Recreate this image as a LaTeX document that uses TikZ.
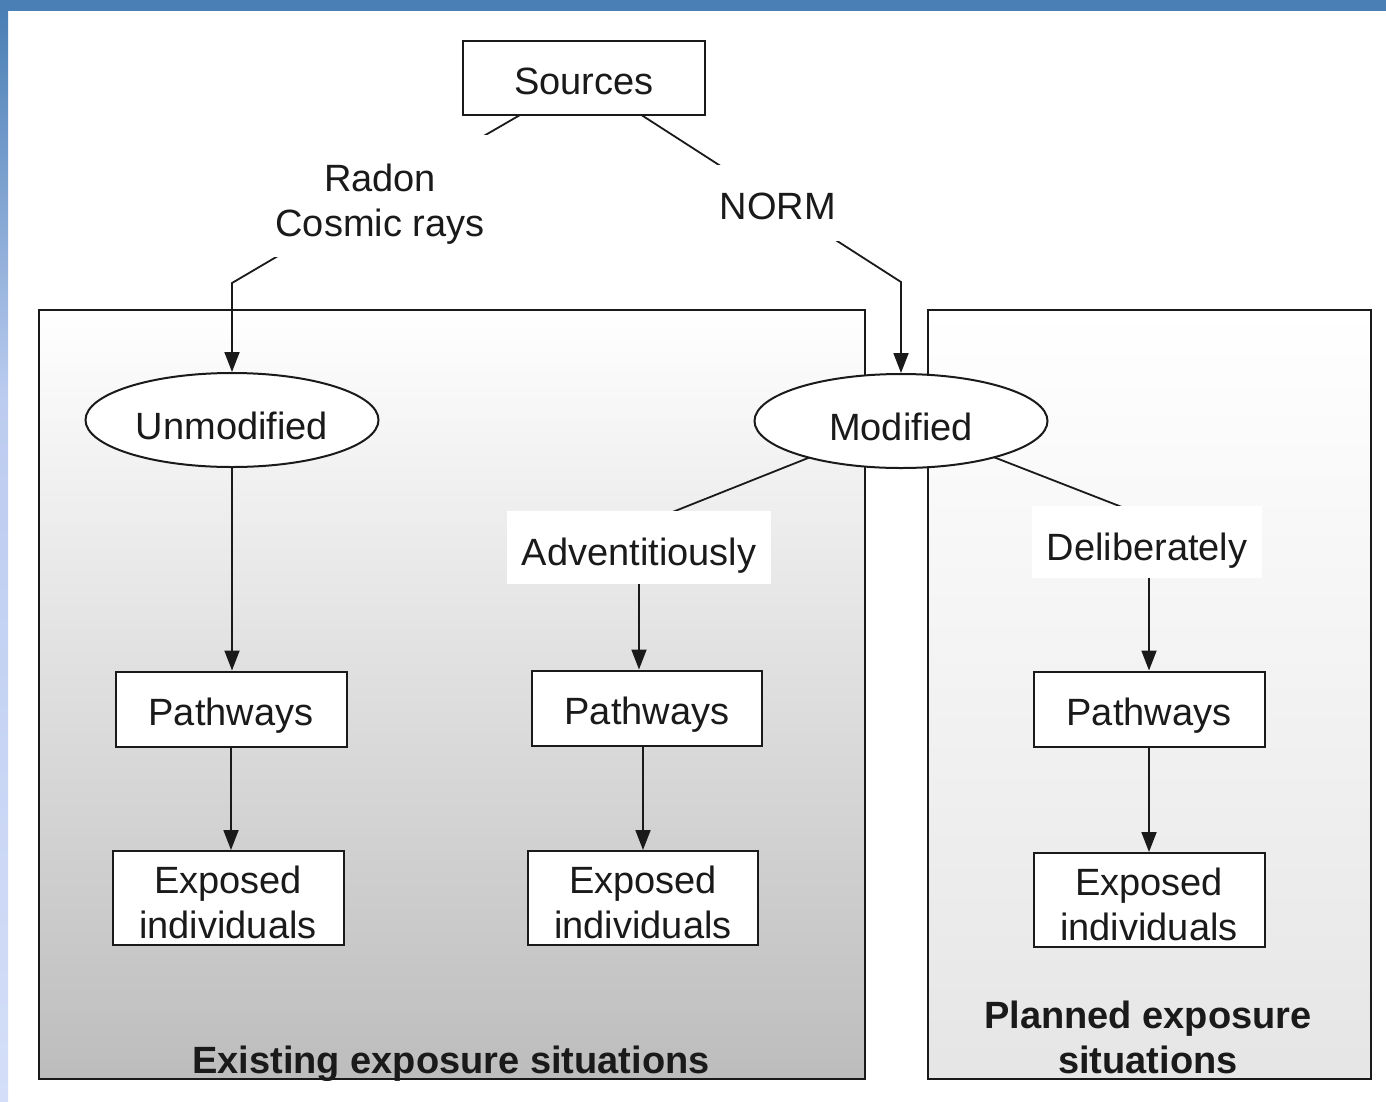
\documentclass[tikz,border=0pt]{standalone}
\usepackage{fontspec}
\setmainfont{Liberation Sans}
\usetikzlibrary{arrows.meta,shapes.geometric}
\pgfdeclarelayer{bg}
\pgfdeclarelayer{edges}
\pgfsetlayers{bg,edges,main}
\definecolor{barblue}{HTML}{4A7FB5}
\definecolor{barmid}{HTML}{BCCCF0}
\definecolor{barlow}{HTML}{D4DEF8}
\definecolor{ink}{HTML}{1A1A1A}
\begin{document}
\begin{tikzpicture}[x=1pt,y=-1pt,
  txt/.style={font=\fontsize{38}{45}\selectfont, text=ink, align=center, inner sep=0pt, text height=32pt, text depth=0pt},
  twoline/.style={text height=81pt, text depth=0pt},
  box/.style={txt, rectangle, draw=ink, line width=2pt, fill=white},
  lbl/.style={txt, rectangle, fill=white},
  oval/.style={txt, ellipse, draw=ink, line width=2pt, fill=white, minimum width=293pt, minimum height=94pt, text height=38pt},
  conn/.style={draw=ink, line width=1.8pt},
  arr/.style={conn, -{Triangle[length=20pt,width=15pt]}},
  titletext/.style={font=\bfseries\fontsize{38}{45}\selectfont, text=ink, align=center, inner sep=0pt},
  frame/.style={draw=ink, line width=2.2pt}]
\useasboundingbox (0,0) rectangle (1386,1101);

% background frame of the slide
\begin{pgfonlayer}{bg}
\fill[white] (0,0) rectangle (1386,1101);
\fill[barblue] (0,0) rectangle (1386,11);
\shade[top color=barblue, bottom color=barmid] (0,11) rectangle (8,400);
\shade[top color=barmid, bottom color=barlow] (0,400) rectangle (8,1101);
% situation boxes
\draw[frame, top color=white, bottom color=black!26] (39,310) rectangle (865,1079);
\draw[frame, top color=white, bottom color=black!10] (928,310) rectangle (1371,1079);
\end{pgfonlayer}

% nodes
\node[box, minimum width=242pt, minimum height=74pt] (sources) at (584,78) {Sources};
\node[lbl, twoline, minimum width=230pt, minimum height=122pt] (radon) at (380,196) {Radon\\Cosmic rays};
\node[lbl, minimum width=160pt, minimum height=76pt] (norm) at (778,203) {NORM};
\node[oval] (unmod) at (232,420) {Unmodified};
\node[oval] (mod) at (901,421) {Modified};
\node[lbl, text height=37pt, minimum width=264pt, minimum height=73pt] (adv) at (639,547) {Adventitiously};
\node[lbl, text height=37pt, minimum width=230pt, minimum height=72pt] (delib) at (1147,542) {Deliberately};
\node[box, minimum width=231pt, minimum height=75pt] (path1) at (231,709) {Pathways};
\node[box, minimum width=230pt, minimum height=75pt] (path2) at (647,708) {Pathways};
\node[box, minimum width=231pt, minimum height=75pt] (path3) at (1149,709) {Pathways};
\node[box, twoline, minimum width=231pt, minimum height=94pt] (exp1) at (228,898) {Exposed\\individuals};
\node[box, twoline, minimum width=230pt, minimum height=94pt] (exp2) at (643,898) {Exposed\\individuals};
\node[box, twoline, minimum width=231pt, minimum height=94pt] (exp3) at (1149,900) {Exposed\\individuals};
\node[titletext, text height=32pt, text depth=0pt] (existing) at (451,1057) {Existing exposure situations};
\node[titletext] (planned) at (1148,1037) {Planned exposure\\situations};

% bend points and free ends
\coordinate (b1) at (232,283);
\coordinate (b2) at (901,282);
\coordinate (a1) at (670,513);
\coordinate (d1) at (1127,509);

% connectors
\begin{pgfonlayer}{edges}
\draw[conn] (sources.center) -- (radon.center);
\draw[arr] (radon.center) -- (b1) -- (unmod.north);
\draw[conn] (sources.center) -- (norm.center);
\draw[arr] (norm.center) -- (b2) -- (mod.north);
\draw[conn] (mod.center) -- (a1);
\draw[conn] (mod.center) -- (d1);
\draw[arr] (unmod.south) -- (unmod.south |- path1.north);
\draw[arr] (path1.south) -- (path1.south |- exp1.north);
\draw[arr] (adv.south) -- (adv.south |- path2.north);
\draw[arr] (exp2.north |- path2.south) -- (exp2.north);
\draw[arr] (path3.north |- delib.south) -- (path3.north);
\draw[arr] (path3.south) -- (exp3.north);
\end{pgfonlayer}
\end{tikzpicture}
\end{document}
